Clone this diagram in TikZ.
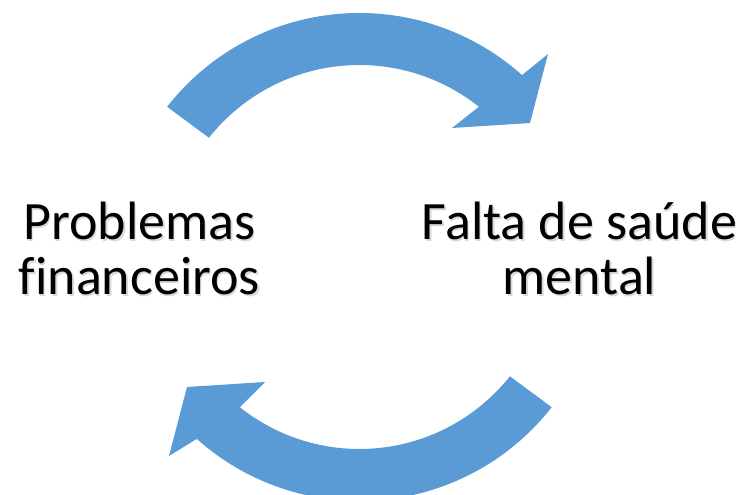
\documentclass[tikz,border=0pt]{standalone}
\usepackage{fontspec}
\setmainfont{Carlito}[Ligatures=NoCommon]
\usetikzlibrary{calc}
\definecolor{arrowblue}{HTML}{5B9BD5}
\tikzset{
  label text/.style={align=center, anchor=base, inner sep=0pt,
    font=\fontsize{54}{55}\selectfont, text=black},
  shadow text/.style={label text, text=black!30, opacity=0.5},
  curved arrow/.style={fill=arrowblue, draw=none}
}
\begin{document}
\begin{tikzpicture}[x=1pt,y=1pt]
\useasboundingbox (0,0) rectangle (747,495);
\clip (0,0) rectangle (747,495);
\coordinate (C1) at (359.4,238);
\coordinate (P) at (358.5,240);
% top arrow
\fill[curved arrow] ($(C1)+(142:244)$) arc[start angle=142,end angle=48.2,radius=244pt]
  -- (548,441) -- (530,372) -- (452,367)
  -- ($(C1)+(51.5:192)$) arc[start angle=51.5,end angle=141.6,radius=192pt] -- cycle;
% bottom arrow
\begin{scope}[rotate around={180:(P)}]
\fill[curved arrow] ($(C1)+(142:244)$) arc[start angle=142,end angle=48.2,radius=244pt]
  -- (548,441) -- (530,372) -- (452,367)
  -- ($(C1)+(51.5:192)$) arc[start angle=51.5,end angle=141.6,radius=192pt] -- cycle;
\end{scope}
% texts
\node[shadow text] (ls) at (141,198.5) {Problemas\\financeiros};
\node[shadow text] (rs) at (581,198.5) {Falta de saúde\\mental};
\node[label text] (left) at (139.5,200) {Problemas\\financeiros};
\node[label text] (right) at (579.5,200) {Falta de saúde\\mental};
\end{tikzpicture}
\end{document}
